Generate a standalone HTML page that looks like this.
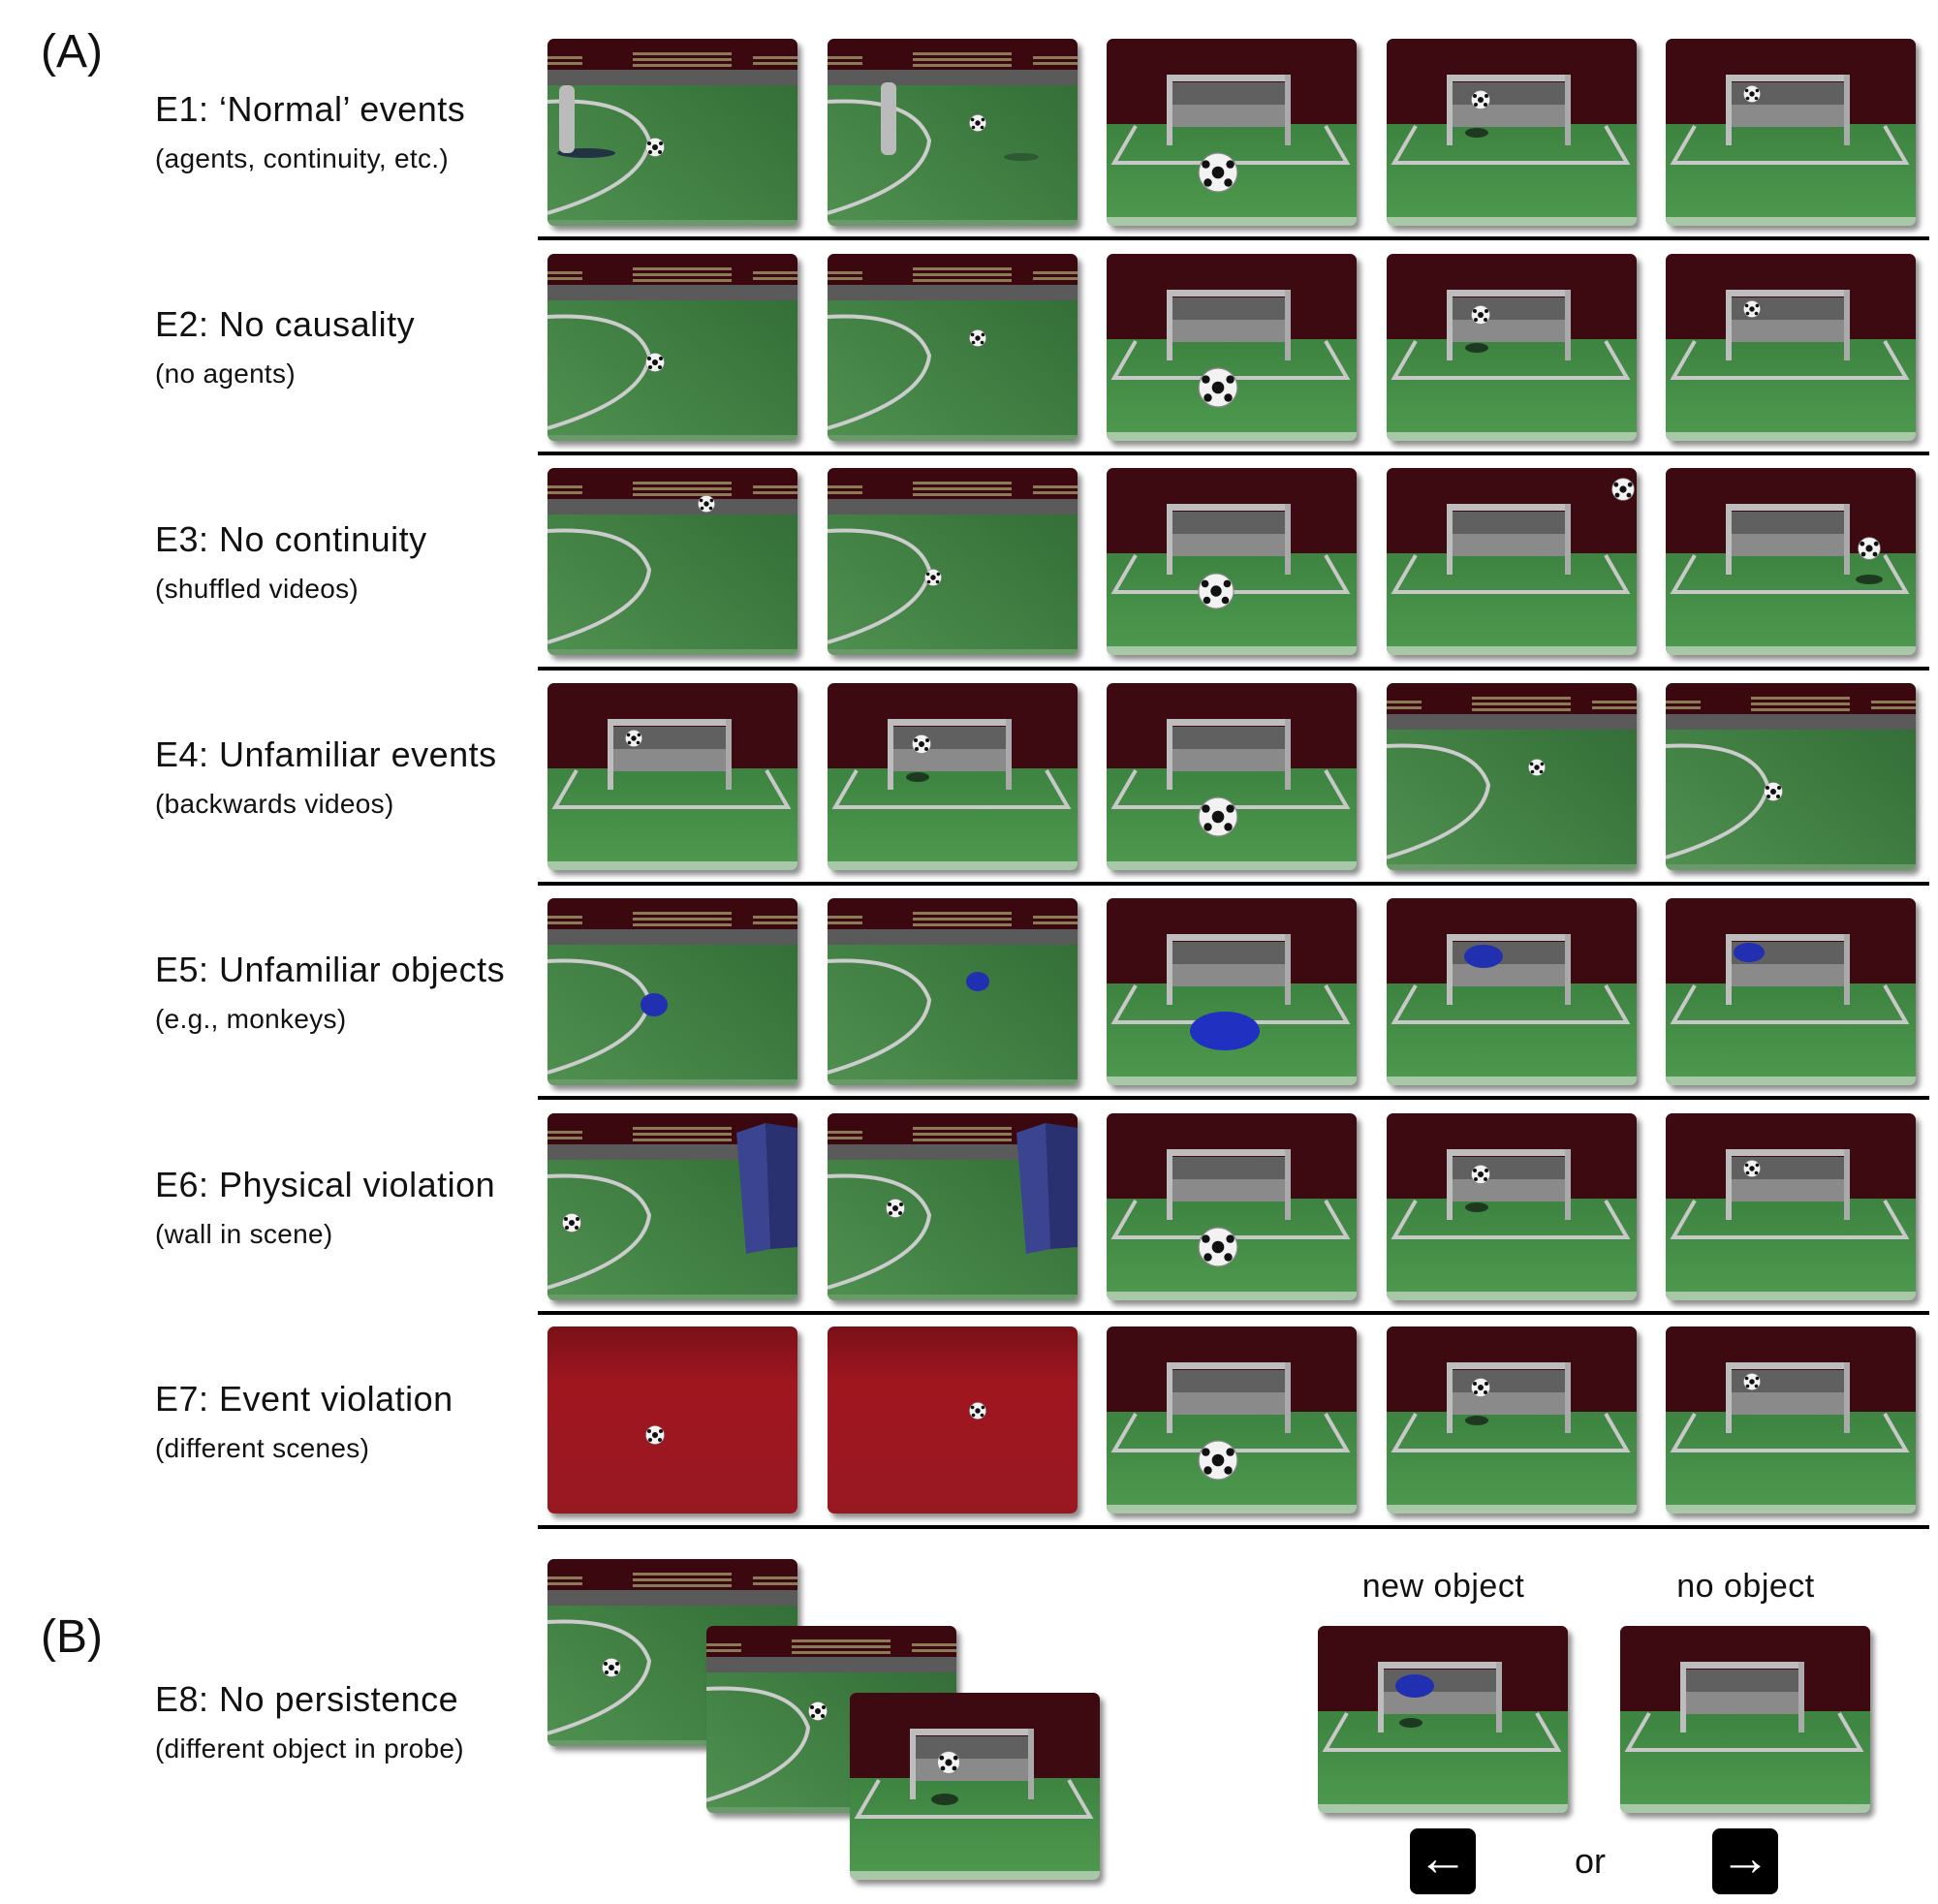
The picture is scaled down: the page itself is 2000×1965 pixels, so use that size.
<!DOCTYPE html>
<html><head><meta charset="utf-8"><style>
body{margin:0;background:#fff;width:2000px;height:1965px;position:relative;overflow:hidden;font-family:"Liberation Sans",sans-serif;color:#111}
.f{position:absolute;width:258px;height:193px;border-radius:7px;overflow:hidden;box-shadow:4px 5px 6px rgba(0,0,0,0.45)}
.f svg{display:block}
.hl{position:absolute;left:555px;width:1436px;height:4px;background:#000}
.t{position:absolute;left:160px;font-size:36px;letter-spacing:0.5px;white-space:nowrap}
.s{position:absolute;left:160px;font-size:28px;letter-spacing:0.3px;white-space:nowrap}
.P{position:absolute;left:42px;font-size:48px}
.k{position:absolute;width:68px;height:68px;background:#000;border-radius:8px;color:#fff;font-size:52px;text-align:center;line-height:62px;font-weight:bold}
</style></head><body>
<svg width="0" height="0" style="position:absolute">
<defs>
<linearGradient id="gg" x1="0" y1="1" x2="1" y2="0"><stop offset="0" stop-color="#4f9050"/><stop offset="1" stop-color="#2f6a33"/></linearGradient>
<linearGradient id="gg2" x1="0" y1="0" x2="0" y2="1"><stop offset="0" stop-color="#2f7035"/><stop offset="1" stop-color="#4e9a4f"/></linearGradient>
<linearGradient id="rg" x1="0" y1="0" x2="0" y2="1"><stop offset="0" stop-color="#7a1018"/><stop offset="0.3" stop-color="#a0161f"/><stop offset="1" stop-color="#981822"/></linearGradient>
<symbol id="st" viewBox="0 0 258 193">
<rect width="258" height="193" fill="url(#gg)"/>
<rect width="258" height="32" fill="#3c0810"/>
<g fill="#8a7a55"><rect x="88" y="14" width="102" height="3"/><rect x="88" y="20" width="102" height="3"/><rect x="88" y="26" width="102" height="3"/><rect x="0" y="18" width="36" height="3"/><rect x="0" y="24" width="36" height="3"/><rect x="212" y="18" width="46" height="3"/><rect x="212" y="24" width="46" height="3"/></g>
<rect y="32" width="258" height="16" fill="#5a5a5a"/>
<path d="M0 65 Q90 60 105 105 Q100 150 0 180" fill="none" stroke="#ccc" stroke-width="4"/>
<rect y="187" width="258" height="6" fill="#6a9a6a"/>
</symbol>
<symbol id="go" viewBox="0 0 258 193">
<rect width="258" height="193" fill="url(#gg2)"/>
<rect width="258" height="88" fill="#3e0a12"/>
<rect x="68" y="45" width="122" height="46" fill="#606060"/>
<rect x="68" y="68" width="122" height="23" fill="#8a8a8a"/>
<rect x="62" y="37" width="128" height="7" fill="#bdbdbd"/>
<rect x="62" y="37" width="6" height="73" fill="#bdbdbd"/><rect x="184" y="37" width="6" height="73" fill="#aaa"/>
<path d="M30 90 L8 128 L248 128 L226 90" fill="none" stroke="#c8c8c8" stroke-width="4"/>
<rect y="184" width="258" height="9" fill="#a8c8a8"/>
</symbol>
<symbol id="rd" viewBox="0 0 258 193"><rect width="258" height="193" fill="url(#rg)"/></symbol>
<symbol id="b" viewBox="0 0 20 20"><circle cx="10" cy="10" r="9.5" fill="#f2f2f2" stroke="#888" stroke-width="0.6"/><circle cx="10" cy="10" r="3" fill="#111"/><circle cx="4" cy="6" r="2" fill="#111"/><circle cx="16" cy="6" r="2" fill="#111"/><circle cx="5" cy="15" r="2" fill="#111"/><circle cx="15" cy="15" r="2" fill="#111"/></symbol>
</defs></svg>

<div class="P" style="top:26px">(A)</div>
<div class="P" style="top:1662px">(B)</div>

<div class="t" style="top:92px">E1: ‘Normal’ events</div><div class="s" style="top:148px">(agents, continuity, etc.)</div>
<div class="t" style="top:314px">E2: No causality</div><div class="s" style="top:370px">(no agents)</div>
<div class="t" style="top:536px">E3: No continuity</div><div class="s" style="top:592px">(shuffled videos)</div>
<div class="t" style="top:758px">E4: Unfamiliar events</div><div class="s" style="top:814px">(backwards videos)</div>
<div class="t" style="top:980px">E5: Unfamiliar objects</div><div class="s" style="top:1036px">(e.g., monkeys)</div>
<div class="t" style="top:1202px">E6: Physical violation</div><div class="s" style="top:1258px">(wall in scene)</div>
<div class="t" style="top:1423px">E7: Event violation</div><div class="s" style="top:1479px">(different scenes)</div>
<div class="t" style="top:1733px">E8: No persistence</div><div class="s" style="top:1789px">(different object in probe)</div>

<div class="hl" style="top:244px"></div><div class="hl" style="top:466px"></div><div class="hl" style="top:688px"></div><div class="hl" style="top:910px"></div><div class="hl" style="top:1131px"></div><div class="hl" style="top:1353px"></div><div class="hl" style="top:1574px"></div>

<!-- Row 1 -->
<div class="f" style="left:565px;top:40px"><svg width="258" height="193"><use href="#st"/><ellipse cx="40" cy="118" rx="30" ry="5" fill="#234"/><rect x="12" y="48" width="16" height="70" fill="#bbb" rx="6"/><use href="#b" x="101" y="102" width="20" height="20"/></svg></div>
<div class="f" style="left:854px;top:40px"><svg width="258" height="193"><use href="#st"/><rect x="55" y="45" width="16" height="75" fill="#bbb" rx="6"/><use href="#b" x="146" y="78" width="18" height="18"/><ellipse cx="200" cy="122" rx="18" ry="4" fill="#2d5a30"/></svg></div>
<div class="f" style="left:1142px;top:40px"><svg width="258" height="193"><use href="#go"/><use href="#b" x="94" y="117" width="42" height="42"/></svg></div>
<div class="f" style="left:1431px;top:40px"><svg width="258" height="193"><use href="#go"/><use href="#b" x="87" y="53" width="20" height="20"/><ellipse cx="93" cy="97" rx="12" ry="5" fill="#1d3a20"/></svg></div>
<div class="f" style="left:1719px;top:40px"><svg width="258" height="193"><use href="#go"/><use href="#b" x="80" y="48" width="18" height="18"/></svg></div>
<!-- Row 2 -->
<div class="f" style="left:565px;top:262px"><svg width="258" height="193"><use href="#st"/><use href="#b" x="101" y="102" width="20" height="20"/></svg></div>
<div class="f" style="left:854px;top:262px"><svg width="258" height="193"><use href="#st"/><use href="#b" x="146" y="78" width="18" height="18"/></svg></div>
<div class="f" style="left:1142px;top:262px"><svg width="258" height="193"><use href="#go"/><use href="#b" x="94" y="117" width="42" height="42"/></svg></div>
<div class="f" style="left:1431px;top:262px"><svg width="258" height="193"><use href="#go"/><use href="#b" x="87" y="53" width="20" height="20"/><ellipse cx="93" cy="97" rx="12" ry="5" fill="#1d3a20"/></svg></div>
<div class="f" style="left:1719px;top:262px"><svg width="258" height="193"><use href="#go"/><use href="#b" x="80" y="48" width="18" height="18"/></svg></div>
<!-- Row 3 -->
<div class="f" style="left:565px;top:483px"><svg width="258" height="193"><use href="#st"/><use href="#b" x="155" y="28" width="18" height="18"/></svg></div>
<div class="f" style="left:854px;top:483px"><svg width="258" height="193"><use href="#st"/><use href="#b" x="100" y="104" width="18" height="18"/></svg></div>
<div class="f" style="left:1142px;top:483px"><svg width="258" height="193"><use href="#go"/><use href="#b" x="94" y="108" width="38" height="38"/></svg></div>
<div class="f" style="left:1431px;top:483px"><svg width="258" height="193"><use href="#go"/><use href="#b" x="232" y="10" width="24" height="24"/></svg></div>
<div class="f" style="left:1719px;top:483px"><svg width="258" height="193"><use href="#go"/><use href="#b" x="198" y="71" width="24" height="24"/><ellipse cx="210" cy="115" rx="14" ry="5" fill="#1d3a20"/></svg></div>
<!-- Row 4 -->
<div class="f" style="left:565px;top:705px"><svg width="258" height="193"><use href="#go"/><use href="#b" x="80" y="48" width="18" height="18"/></svg></div>
<div class="f" style="left:854px;top:705px"><svg width="258" height="193"><use href="#go"/><use href="#b" x="87" y="53" width="20" height="20"/><ellipse cx="93" cy="97" rx="12" ry="5" fill="#1d3a20"/></svg></div>
<div class="f" style="left:1142px;top:705px"><svg width="258" height="193"><use href="#go"/><use href="#b" x="94" y="117" width="42" height="42"/></svg></div>
<div class="f" style="left:1431px;top:705px"><svg width="258" height="193"><use href="#st"/><use href="#b" x="146" y="78" width="18" height="18"/></svg></div>
<div class="f" style="left:1719px;top:705px"><svg width="258" height="193"><use href="#st"/><use href="#b" x="101" y="102" width="20" height="20"/></svg></div>
<!-- Row 5 -->
<div class="f" style="left:565px;top:927px"><svg width="258" height="193"><use href="#st"/><ellipse cx="110" cy="110" rx="14" ry="12" fill="#2030b0"/></svg></div>
<div class="f" style="left:854px;top:927px"><svg width="258" height="193"><use href="#st"/><ellipse cx="155" cy="86" rx="12" ry="10" fill="#2030b0"/></svg></div>
<div class="f" style="left:1142px;top:927px"><svg width="258" height="193"><use href="#go"/><ellipse cx="122" cy="137" rx="36" ry="20" fill="#2030c0"/></svg></div>
<div class="f" style="left:1431px;top:927px"><svg width="258" height="193"><use href="#go"/><ellipse cx="100" cy="60" rx="20" ry="12" fill="#2030b0"/></svg></div>
<div class="f" style="left:1719px;top:927px"><svg width="258" height="193"><use href="#go"/><ellipse cx="86" cy="56" rx="16" ry="10" fill="#2030b0"/></svg></div>
<!-- Row 6 -->
<div class="f" style="left:565px;top:1149px"><svg width="258" height="193"><use href="#st"/><polygon points="195,20 225,10 230,140 205,145" fill="#3a4490"/><polygon points="225,10 258,15 258,138 230,140" fill="#2a3170"/><use href="#b" x="15" y="103" width="20" height="20"/></svg></div>
<div class="f" style="left:854px;top:1149px"><svg width="258" height="193"><use href="#st"/><polygon points="195,20 225,10 230,140 205,145" fill="#3a4490"/><polygon points="225,10 258,15 258,138 230,140" fill="#2a3170"/><use href="#b" x="60" y="88" width="20" height="20"/></svg></div>
<div class="f" style="left:1142px;top:1149px"><svg width="258" height="193"><use href="#go"/><use href="#b" x="94" y="117" width="42" height="42"/></svg></div>
<div class="f" style="left:1431px;top:1149px"><svg width="258" height="193"><use href="#go"/><use href="#b" x="87" y="53" width="20" height="20"/><ellipse cx="93" cy="97" rx="12" ry="5" fill="#1d3a20"/></svg></div>
<div class="f" style="left:1719px;top:1149px"><svg width="258" height="193"><use href="#go"/><use href="#b" x="80" y="48" width="18" height="18"/></svg></div>
<!-- Row 7 -->
<div class="f" style="left:565px;top:1369px"><svg width="258" height="193"><use href="#rd"/><use href="#b" x="101" y="102" width="20" height="20"/></svg></div>
<div class="f" style="left:854px;top:1369px"><svg width="258" height="193"><use href="#rd"/><use href="#b" x="146" y="78" width="18" height="18"/></svg></div>
<div class="f" style="left:1142px;top:1369px"><svg width="258" height="193"><use href="#go"/><use href="#b" x="94" y="117" width="42" height="42"/></svg></div>
<div class="f" style="left:1431px;top:1369px"><svg width="258" height="193"><use href="#go"/><use href="#b" x="87" y="53" width="20" height="20"/><ellipse cx="93" cy="97" rx="12" ry="5" fill="#1d3a20"/></svg></div>
<div class="f" style="left:1719px;top:1369px"><svg width="258" height="193"><use href="#go"/><use href="#b" x="80" y="48" width="18" height="18"/></svg></div>
<!-- B -->
<div class="f" style="left:565px;top:1609px"><svg width="258" height="193"><use href="#st"/><use href="#b" x="56" y="102" width="20" height="20"/></svg></div>
<div class="f" style="left:729px;top:1678px"><svg width="258" height="193"><use href="#st"/><use href="#b" x="105" y="78" width="20" height="20"/></svg></div>
<div class="f" style="left:877px;top:1747px"><svg width="258" height="193"><use href="#go"/><use href="#b" x="90" y="60" width="24" height="24"/><ellipse cx="98" cy="110" rx="14" ry="6" fill="#1d3a20"/></svg></div>
<div style="position:absolute;left:1360px;top:1618px;width:259px;text-align:center;font-size:34px;letter-spacing:0.5px">new object</div>
<div style="position:absolute;left:1672px;top:1618px;width:259px;text-align:center;font-size:34px;letter-spacing:0.5px">no object</div>
<div class="f" style="left:1360px;top:1678px"><svg width="258" height="193"><use href="#go"/><ellipse cx="100" cy="62" rx="20" ry="12" fill="#2030b0"/><ellipse cx="96" cy="100" rx="12" ry="5" fill="#1d3a20"/></svg></div>
<div class="f" style="left:1672px;top:1678px"><svg width="258" height="193"><use href="#go"/></svg></div>
<div class="k" style="left:1455px;top:1887px">←</div>
<div style="position:absolute;left:1625px;top:1900px;font-size:36px">or</div>
<div class="k" style="left:1767px;top:1887px">→</div>
</body></html>
